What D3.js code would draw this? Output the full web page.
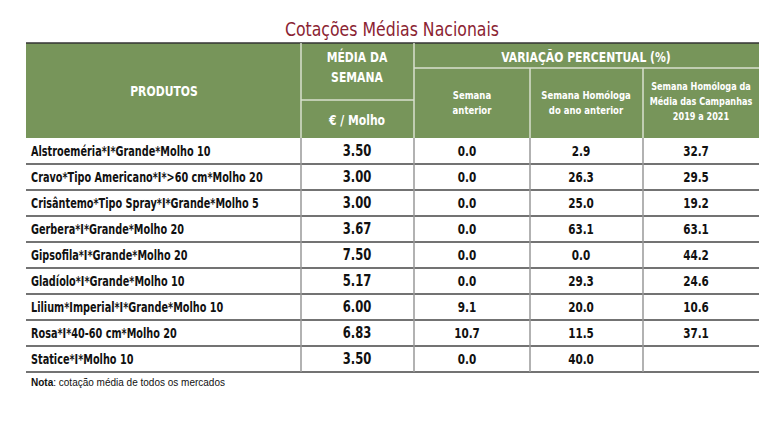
<!DOCTYPE html>
<html><head><meta charset="utf-8">
<script src="https://cdn.jsdelivr.net/npm/d3@7"></script>
<style>body{margin:0;background:#fff}</style>
</head><body>
<div id="chart"></div>
<script>
// data
var produtos = ["Alstroeméria*I*Grande*Molho 10","Cravo*Tipo Americano*I*>60 cm*Molho 20","Crisântemo*Tipo Spray*I*Grande*Molho 5","Gerbera*I*Grande*Molho 20","Gipsofila*I*Grande*Molho 20","Gladíolo*I*Grande*Molho 10","Lilium*Imperial*I*Grande*Molho 10","Rosa*I*40-60 cm*Molho 20","Statice*I*Molho 10"];
var media = ["3.50","3.00","3.00","3.67","7.50","5.17","6.00","6.83","3.50"];
var semAnterior = ["0.0","0.0","0.0","0.0","0.0","0.0","9.1","10.7","0.0"];
var anoAnterior = ["2.9","26.3","25.0","63.1","0.0","29.3","20.0","11.5","40.0"];
var campanhas = ["32.7","29.5","19.2","63.1","44.2","24.6","10.6","37.1",""];

var w = 773, h = 427;
var font = "'DejaVu Sans Condensed',sans-serif";
var green = '#77955a';
var sx = 0.86; // horizontal squeeze to imitate a narrow font

var svg = d3.select("#chart").append("svg").attr("width", w).attr("height", h)
    .style("font-family", font);

// text helper, squeezed horizontally
function txt(x, y, s, opt) {
  opt = opt || {};
  return svg.append("text")
    .attr("transform", "translate(" + x + "," + y + ") scale(" + (opt.sx || sx) + ",1)")
    .attr("text-anchor", opt.anchor || "middle")
    .attr("fill", opt.fill || "#111")
    .attr("font-weight", opt.weight || "bold")
    .attr("font-size", opt.size || 13)
    .text(s);
}

// title
txt(392, 36, "Cotações Médias Nacionais", {fill: "#8b2332", size: 19, weight: "normal", sx: 0.92});

// header
var hTop = 43, hBot = 138;
svg.append("rect").attr("x", 26).attr("y", hTop).attr("width", 733).attr("height", hBot - hTop).attr("fill", green);
svg.append("line").attr("x1", 26).attr("x2", 759).attr("y1", hTop).attr("y2", hTop).attr("stroke", "#333").attr("stroke-width", 1.5);
var wl = function(x1, y1, x2, y2) {
  svg.append("line").attr("x1", x1).attr("y1", y1).attr("x2", x2).attr("y2", y2).attr("stroke", "#d8e0cf").attr("stroke-width", 1.5);
};
wl(301, hTop, 301, hBot); wl(414, hTop, 414, hBot);
wl(301, 100, 414, 100); wl(414, 68, 759, 68);
wl(530, 68, 530, hBot); wl(643, 68, 643, hBot);

var ht = function(x, y, s, size) { txt(x, y, s, {fill: "#fff", size: size}); };
ht(164, 96, "PRODUTOS", 14);
ht(357, 62, "MÉDIA DA", 14); ht(357, 82, "SEMANA", 14);
ht(357, 125, "€ / Molho", 14);
ht(586, 62, "VARIAÇÃO PERCENTUAL (%)", 14);
ht(472, 99, "Semana", 11); ht(472, 114, "anterior", 11);
ht(586, 99, "Semana Homóloga", 11); ht(586, 114, "do ano anterior", 11);
ht(701, 90, "Semana Homóloga da", 10.5); ht(701, 105, "Média das Campanhas", 10.5); ht(701, 120, "2019 a 2021", 10.5);

// rows
var y = d3.scaleBand().domain(d3.range(produtos.length)).range([hBot, 372]);
svg.selectAll("line.rowline").data(produtos).enter().append("line").attr("class", "rowline")
    .attr("x1", 26).attr("x2", 759)
    .attr("y1", function(d, i) { return y(i) + y.bandwidth(); })
    .attr("y2", function(d, i) { return y(i) + y.bandwidth(); })
    .attr("stroke", "#444").attr("stroke-width", 1.5);
[301, 414, 530, 643].forEach(function(x) {
  svg.append("line").attr("x1", x).attr("x2", x).attr("y1", hBot).attr("y2", 372)
    .attr("stroke", "#999").attr("stroke-width", 1.5);
});
var ty = function(i) { return y(i) + y.bandwidth() / 2 + 5; };
produtos.forEach(function(d, i) {
  txt(31, ty(i), d, {anchor: "start", size: 13.5, sx: 0.8});
  txt(357, ty(i), media[i], {size: 15});
  txt(467, ty(i), semAnterior[i], {size: 13.5});
  txt(581, ty(i), anoAnterior[i], {size: 13.5});
  txt(696, ty(i), campanhas[i], {size: 13.5});
});

// note
var note = svg.append("text").attr("x", 31).attr("y", 386).attr("font-size", 10)
    .attr("font-family", "'Liberation Sans',sans-serif").attr("fill", "#111");
note.append("tspan").attr("font-weight", "bold").text("Nota");
note.append("tspan").text(": cotação média de todos os mercados");
</script>
</body></html>
